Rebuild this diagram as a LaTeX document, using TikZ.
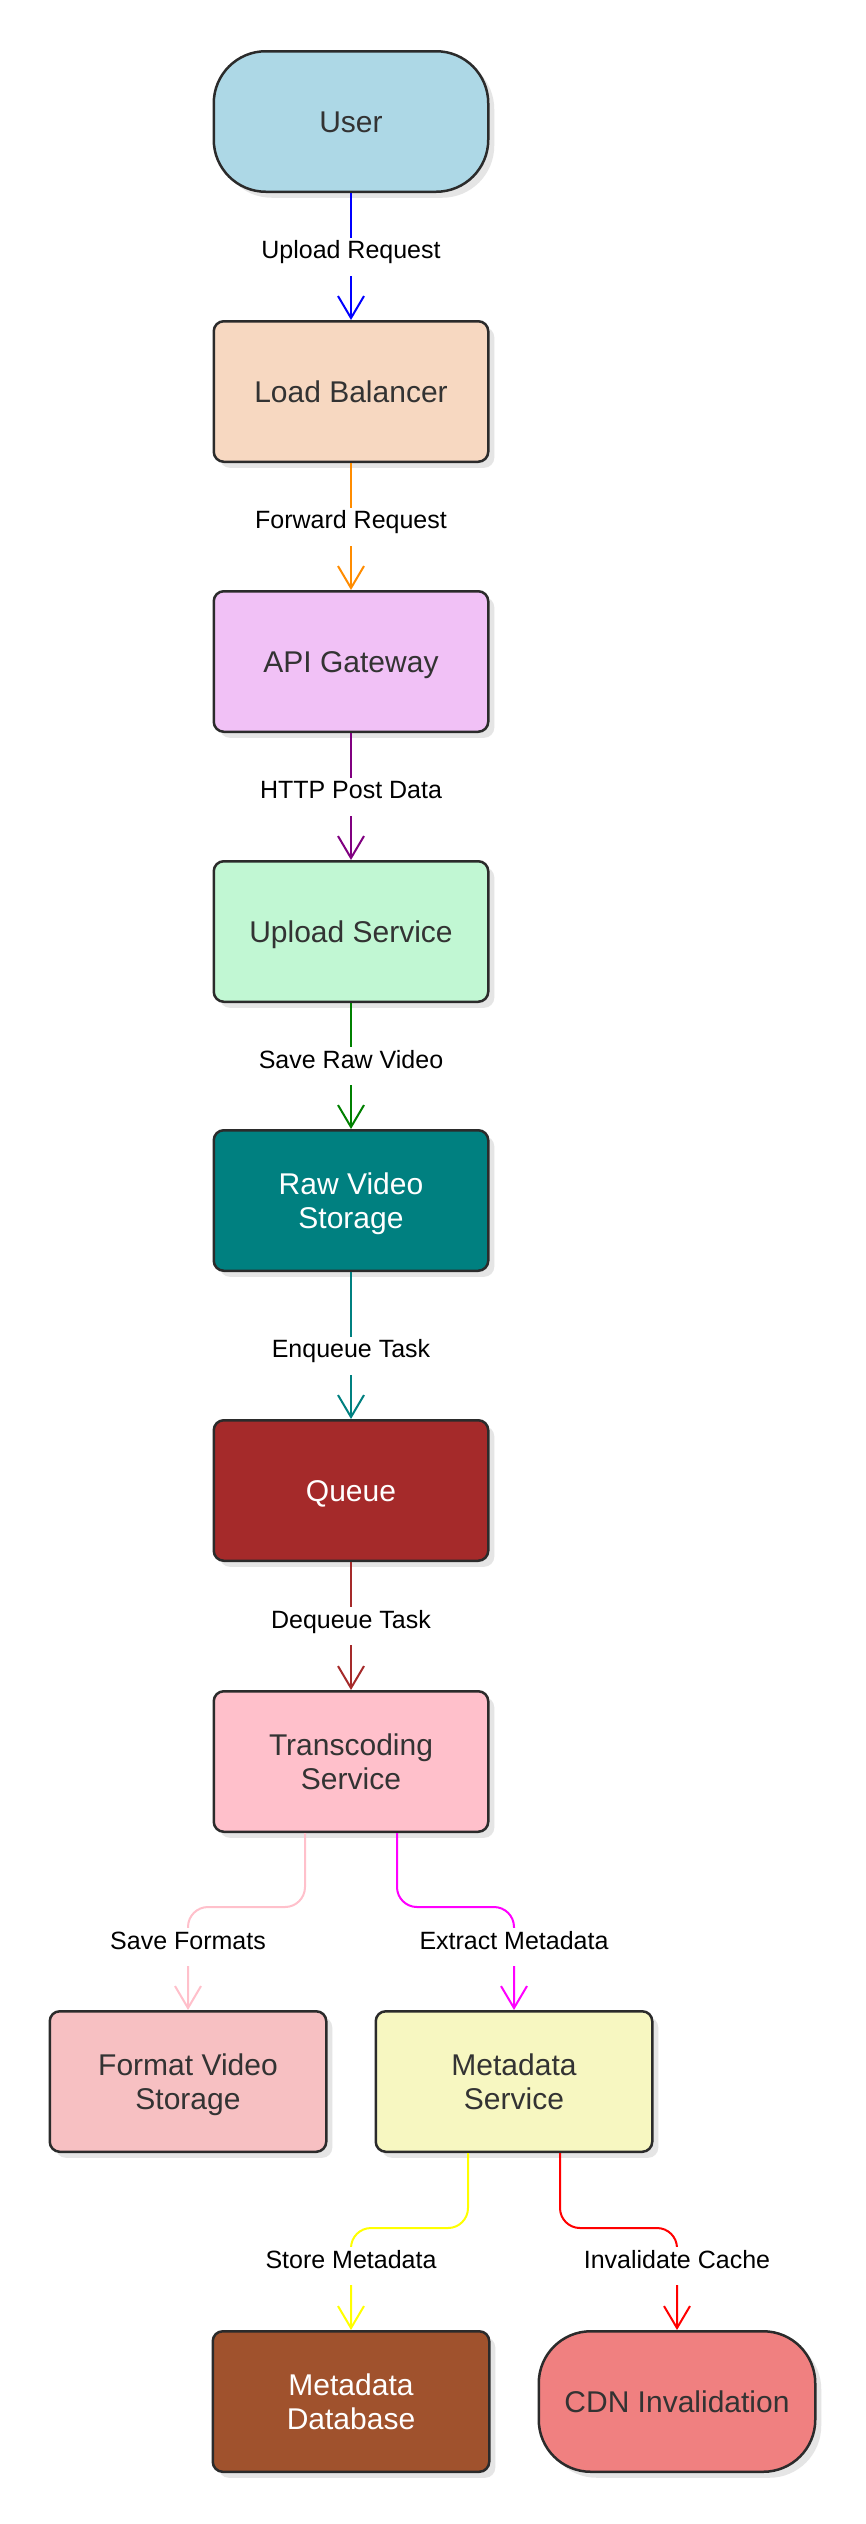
\documentclass[tikz,border=0pt]{standalone}
\usepackage{fontspec}
\setmainfont{Liberation Sans}
\usetikzlibrary{arrows.meta,shadows,calc}
\definecolor{cBorder}{HTML}{2B2B2B}
\definecolor{cText}{HTML}{333333}
\definecolor{cUser}{HTML}{ADD8E6}
\definecolor{cLB}{HTML}{F7D8C1}
\definecolor{cAPI}{HTML}{F1C1F6}
\definecolor{cUp}{HTML}{C1F7D3}
\definecolor{cRaw}{HTML}{008080}
\definecolor{cQueue}{HTML}{A52A2A}
\definecolor{cTrans}{HTML}{FFC0CB}
\definecolor{cFmt}{HTML}{F7C0C2}
\definecolor{cMeta}{HTML}{F7F7C1}
\definecolor{cDB}{HTML}{A0522D}
\definecolor{cCDN}{HTML}{F08080}
\definecolor{eBlue}{HTML}{0000FF}
\definecolor{eOrange}{HTML}{FF8C00}
\definecolor{ePurple}{HTML}{800080}
\definecolor{eGreen}{HTML}{008000}
\definecolor{eTeal}{HTML}{008080}
\definecolor{eBrown}{HTML}{A52A2A}
\definecolor{ePink}{HTML}{FFC0CB}
\definecolor{eMagenta}{HTML}{FF00FF}
\definecolor{eYellow}{HTML}{FFFF00}
\definecolor{eRed}{HTML}{FF0000}
\newcommand{\boxtext}[1]{\raisebox{-4.6pt}[\height][\depth]{\begin{tabular}{@{}c@{}}#1\end{tabular}}}
\begin{document}
\begin{tikzpicture}[x=1pt,y=-1pt,
  box/.style={draw=cBorder, line width=2.5pt, rounded corners=10pt,
    minimum width=274.5pt, minimum height=140.5pt, inner sep=0pt,
    text=cText, font=\fontsize{30}{34}\selectfont,
    drop shadow={shadow xshift=6pt,shadow yshift=-6pt,fill=black!10,opacity=1}},
  wide/.style={minimum width=276.5pt},
  stadium/.style={box, rounded corners=52pt},
  edge/.style={line width=2pt, -{Straight Barb[length=22pt,width=26pt,line width=2pt]}},
  elabel/.style={fill=white, inner sep=0pt, minimum height=38pt, text=black,
    text height=19pt, text depth=15pt, font=\fontsize{25}{30}\selectfont}
]
\fill[white] (0,0) rectangle (865,2524);
\useasboundingbox (0,0) rectangle (865,2524);

\node[stadium, fill=cUser] (user) at (351,121.5) {\boxtext{User}};
\node[box, fill=cLB] (lb) at (351,391.5) {\boxtext{Load Balancer}};
\node[box, fill=cAPI] (api) at (351,661.5) {\boxtext{API Gateway}};
\node[box, fill=cUp] (up) at (351,931.5) {\boxtext{Upload Service}};
\node[box, fill=cRaw, text=white] (raw) at (351,1200.5) {\boxtext{Raw Video\\Storage}};
\node[box, fill=cQueue, text=white] (queue) at (351,1490.5) {\boxtext{Queue}};
\node[box, fill=cTrans] (trans) at (351,1761.5) {\boxtext{Transcoding\\Service}};
\node[box, wide, fill=cFmt] (fmt) at (188,2081.5) {\boxtext{Format Video\\Storage}};
\node[box, wide, fill=cMeta] (meta) at (514,2081.5) {\boxtext{Metadata\\Service}};
\node[box, wide, fill=cDB, text=white] (db) at (351,2401.5) {\boxtext{Metadata\\Database}};
\node[stadium, wide, fill=cCDN] (cdn) at (677,2401.5) {\boxtext{CDN Invalidation}};

\draw[edge, eBlue] (user) -- node[elabel] (l1) {Upload Request} (lb);
\draw[edge, eOrange] (lb) -- node[elabel] (l2) {Forward Request} (api);
\draw[edge, ePurple] (api) -- node[elabel] (l3) {HTTP Post Data} (up);
\draw[edge, eGreen] (up) -- node[elabel] (l4) {Save Raw Video} (raw);
\draw[edge, eTeal] (raw) -- node[elabel, pos=0.57] (l5) {Enqueue Task} (queue);
\draw[edge, eBrown] (queue) -- node[elabel] (l6) {Dequeue Task} (trans);

\draw[edge, ePink, rounded corners=20pt] ([xshift=-46pt]trans.south) |- ($(fmt.north)+(0,-103)$) -- (fmt.north);
\node[elabel] (l7) at ($(fmt.north)+(0,-63)$) {Save Formats};
\draw[edge, eMagenta, rounded corners=20pt] ([xshift=46pt]trans.south) |- ($(meta.north)+(0,-103)$) -- (meta.north);
\node[elabel] (l8) at ($(meta.north)+(0,-63)$) {Extract Metadata};

\draw[edge, eYellow, rounded corners=20pt] ([xshift=-46pt]meta.south) |- ($(db.north)+(0,-102)$) -- (db.north);
\node[elabel] (l9) at ($(db.north)+(0,-64)$) {Store Metadata};
\draw[edge, eRed, rounded corners=20pt] ([xshift=46pt]meta.south) |- ($(cdn.north)+(0,-102)$) -- (cdn.north);
\node[elabel] (l10) at ($(cdn.north)+(0,-64)$) {Invalidate Cache};
\end{tikzpicture}
\end{document}
